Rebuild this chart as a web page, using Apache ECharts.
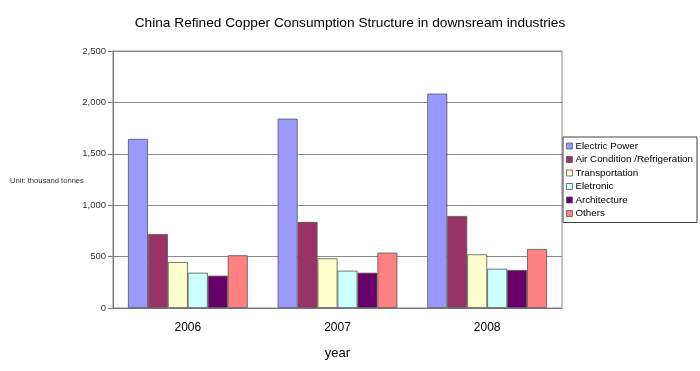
<!DOCTYPE html>
<html>
<head>
<meta charset="utf-8">
<script src="https://cdn.jsdelivr.net/npm/echarts@6/dist/echarts.min.js"></script>
<style>html,body{margin:0;padding:0;background:#fff}#c{width:700px;height:371px}</style>
</head>
<body>
<div id="c"></div>
<script>
var categories = ['2006', '2007', '2008'];
var seriesNames = ['Electric Power', 'Air Condition /Refrigeration', 'Transportation', 'Eletronic', 'Architecture', 'Others'];
var electricPower = [1645, 1842, 2085];
var airCondition = [720, 837, 895];
var transportation = [447, 483, 522];
var eletronic = [343, 363, 382];
var architecture = [314, 343, 370];
var others = [513, 538, 574];
var yTicks = [0, 500, 1000, 1500, 2000, 2500];
var colors = ['#9999FF', '#993366', '#FFFFCC', '#CCFFFF', '#660066', '#FF8080'];
var values = [electricPower, airCondition, transportation, eletronic, architecture, others];

var font = 'Liberation Sans, Arial, sans-serif';
var chart = echarts.init(document.getElementById('c'));
chart.setOption({
  backgroundColor: '#fff',
  animation: false,
  title: {
    text: 'China Refined Copper Consumption Structure in downsream industries',
    left: 'center', top: 11,
    textStyle: {fontFamily: font, fontSize: 13.7, fontWeight: 'normal', color: '#000'}
  },
  legend: {
    orient: 'vertical', left: 563, top: 137,
    width: 132,
    data: seriesNames,
    icon: 'rect', itemWidth: 6, itemHeight: 6, itemGap: 3.5,
    padding: [4, 4, 4, 3],
    borderColor: '#444', borderWidth: 1,
    textStyle: {fontFamily: font, fontSize: 9.8, color: '#000', lineHeight: 10, padding: [0, 0, 0, -2]},
    itemStyle: {borderColor: '#555', borderWidth: 0.8}
  },
  grid: {left: 113, top: 51, right: 138, bottom: 63, show: true, borderColor: '#888', borderWidth: 1},
  xAxis: {
    type: 'category', data: categories,
    name: 'year', nameLocation: 'middle', nameGap: 39,
    nameTextStyle: {fontFamily: font, fontSize: 13, color: '#000'},
    axisLine: {lineStyle: {color: '#777'}},
    axisTick: {inside: true, length: 4, lineStyle: {color: '#777'}},
    axisLabel: {fontFamily: font, fontSize: 12, color: '#000', margin: 14}
  },
  yAxis: {
    type: 'value', min: yTicks[0], max: yTicks[yTicks.length - 1], interval: 500,
    axisLine: {show: true, lineStyle: {color: '#777'}},
    axisTick: {show: true, length: 5, lineStyle: {color: '#777'}},
    splitLine: {lineStyle: {color: '#888'}},
    axisLabel: {
      fontFamily: font, fontSize: 9.5, color: '#333', margin: 7,
      formatter: function (v) { return v.toLocaleString('en-US'); }
    }
  },
  graphic: [{
    type: 'text', left: 10, top: 177,
    style: {text: 'Unit: thousand tonnes', fontFamily: font, fontSize: 7.6, fill: '#333'}
  }],
  series: seriesNames.map(function (n, i) {
    return {
      name: n, type: 'bar', data: values[i],
      barGap: '0%', barCategoryGap: '20%',
      itemStyle: {color: colors[i], borderColor: '#555', borderWidth: 0.8}
    };
  })
});
</script>
</body>
</html>
